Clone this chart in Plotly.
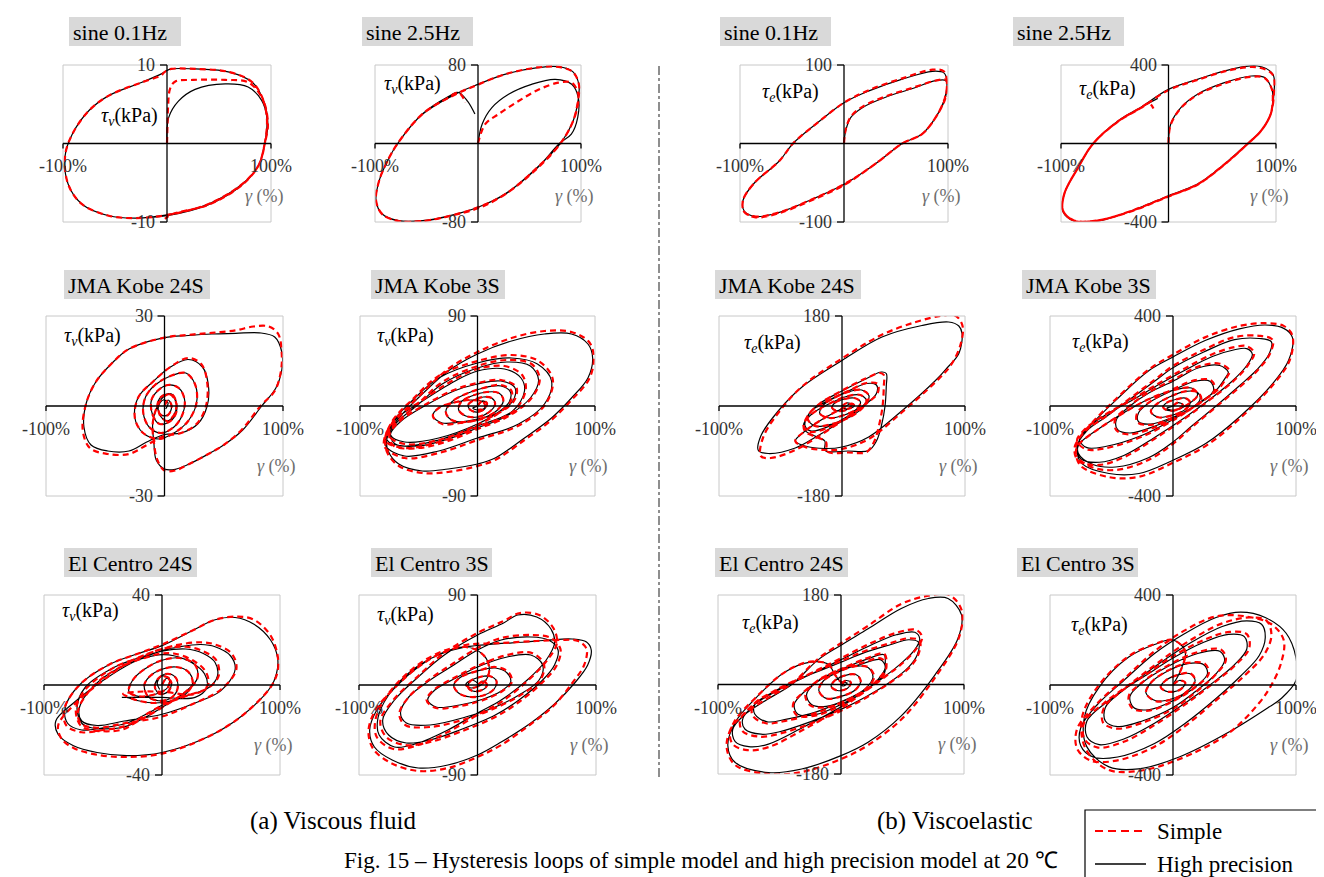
import plotly.graph_objects as go

W, H = 1324, 877

# ---------------- data: (gamma %, tau kPa) ----------------
SINE01_V_HP = [(0,0),(1.6,3.3),(11,5.4),(27,6.9),(56,7.6),(78,7.2),(91,5.5),(96,3.3),(94,0),(88,-2.8),(72,-5.2),(40,-7.7),(0,-9.1),(-30,-9.5),(-56,-9.2),(-82,-7.7),(-95,-5.2),(-98,-1.6),(-91,1.2),(-75,4.2),(-56,6.1),(-24,7.8),(-5,8.9),(0,9.3),(4,9.5),(27,9.5),(60,9.1),(82,7.8),(93,5.4),(97,2.4),(94,0),(88,-2.8),(72,-5.3),(40,-7.8),(0,-9.2),(-30,-9.5)]
SINE01_V_SP = [(0,0),(0.5,2.5),(1,4.6),(3,7.0),(8,7.9),(25,8.1),(56,8.1),(78,7.8),(91,5.9),(96,3.3),(94,0),(88,-2.8),(72,-5.2),(40,-7.7),(0,-9.1),(-30,-9.5),(-56,-9.2),(-82,-7.7),(-95,-5.2),(-98,-1.6),(-91,1.2),(-75,4.2),(-56,6.1),(-24,7.8),(-5,8.7),(-4,8.9),(0,9.3),(4,9.5),(27,9.5),(60,9.1),(82,7.8),(93,5.4),(97,2.4),(94,0),(88,-2.8),(72,-5.3),(40,-7.8),(5,-9.0),(-2,-9.6)]

SINE25_V_HP = [(0,0),(4,19.7),(13.5,36.6),(29.7,50.2),(52,60.3),(75,65.4),(91,60.3),(97.4,46.8),(96.8,26.4),(90.6,9.5),(79,0),(58,-24.4),(26,-51.5),(0,-65),(-28,-73.6),(-54,-78.6),(-77,-78.6),(-93,-71.9),(-99,-58.3),(-96,-38),(-88,-18),(-78,0),(-54,29.8),(-22,50.2),(0,60.3),(26,70.5),(58,77.3),(78,78.3),(92,73.2),(98,59.7),(97,42.7),(92,22),(80,0),(58,-24),(26,-52),(0,-65),(-28,-74),(-54,-79),(-77,-79),(-93,-72),(-99,-58),(-96,-38),(-88,-18),(-78,0),(-54,30),(-30,47),(-19,52),(-10,43),(-3,30)]
SINE25_V_SP = [(0,0),(7,19.7),(20,30),(39,43),(59,55),(78,62),(91,62),(97,52),(97,40),(92,22),(80,0),(58,-24),(26,-52),(0,-65),(-28,-74),(-54,-79),(-77,-79),(-93,-72),(-99,-58),(-96,-38),(-88,-18),(-78,0),(-54,30),(-22,50),(0,60),(26,70.5),(58,77.5),(78,78),(92,73),(98,60),(97,43),(92,22),(80,0),(58,-25),(26,-52),(0,-66),(-28,-74),(-54,-79),(-77,-79),(-93,-72),(-99,-58),(-96,-38),(-88,-18),(-78,0),(-54,30),(-30,46),(-19,52),(-14,46),(-12,42)]

SINE01_E_HP = [(0,0),(1.6,16),(6.4,33),(18,46),(40,59),(66,70),(88,80),(98,80),(99,72),(97,56),(88,33),(75,12),(56,0),(30,-26),(0,-52),(-34,-73),(-63,-88),(-85,-93),(-96,-86),(-97,-72),(-86,-50),(-62,-22),(-49,0),(-24,28),(0,52),(24,67),(56,82),(85,92),(96,90),(99,80),(97,58),(88,33),(75,12),(56,0),(30,-26),(0,-52),(-34,-73),(-63,-88),(-85,-93),(-96,-86),(-97,-72),(-86,-50),(-70,-32)]
SINE01_E_SP = [(0,0),(2,20),(7,35),(18,47),(40,60),(66,71),(88,80),(98,81),(99,72),(97,56),(88,33),(75,12),(56,0),(30,-26),(0,-53),(-34,-74),(-63,-89),(-85,-94),(-96,-87),(-97,-72),(-86,-50),(-62,-22),(-49,0),(-24,28),(0,52),(24,68),(56,83),(85,94),(96,92),(99,80),(97,58),(88,33),(75,12),(56,0),(30,-26),(0,-52),(-34,-73),(-63,-88),(-85,-93),(-96,-87),(-97,-72),(-86,-50),(-70,-32)]

SINE25_E_HP = [(0,0),(2,98),(11.5,183),(27,251),(52,310),(77,344),(89.5,336),(95.6,285),(97,251),(95,149),(86,64),(73.6,0),(52,-105),(27,-207),(0,-266),(-35,-344),(-66,-395),(-88,-395),(-98.4,-344),(-97,-258),(-84,-122),(-70,0),(-47,115),(-26,183),(0,276),(27,327),(58,378),(83,395),(97,354),(98,251),(95,149),(86,64),(73.6,0),(52,-105),(27,-207),(0,-266),(-35,-344),(-66,-395),(-88,-395),(-98.4,-344),(-97,-258),(-84,-122),(-70,0),(-47,115),(-26,183),(-10,230)]
SINE25_E_SP = [(0,0),(2,95),(11.5,180),(27,248),(52,306),(77,340),(89.5,334),(95.6,285),(97,251),(95,149),(86,64),(74,0),(52,-108),(27,-210),(0,-270),(-35,-346),(-66,-392),(-88,-392),(-98,-344),(-97,-258),(-84,-122),(-70,0),(-47,112),(-26,180),(0,272),(27,324),(58,375),(83,388),(97,350),(98,251),(95,149),(86,64),(74,0),(52,-106),(27,-208),(0,-268),(-35,-344),(-66,-393),(-88,-393),(-98,-344),(-97,-258),(-84,-122),(-70,0),(-47,113),(-26,181),(-18,205),(-14,178)]

KOBE24_V_HP = [(0,0),(3,2),(6,0),(3,-3),(-3,-3),(-6,0),(-3,3),(4,4),(9,2),(10,-2),(5,-5),(-4,-6),(-10,-3),(-11,2),(-6,5),(3,7),(12,6),(17,2),(15,-3),(8,-7),(-3,-9),(-13,-7),(-18,-2),(-16,3),(-8,7),(5,10),(18,11),(26,7),(27,1),(20,-5),(8,-9),(-5,-11),(-18,-9),(-25,-4),(-22,3),(-10,8),(5,13),(20,15.5),(32,13),(37,7),(36,0),(28,-6),(14,-9),(0,-9.5),(-15,-12),(-30,-15),(-48,-15),(-62,-13),(-68,-7),(-66,1),(-58,8),(-45,14),(-30,19),(0,22.8),(20,23.5),(40,24),(60,24.2),(80,24.4),(93,23),(99,18),(99,12),(94,6),(82,0),(66,-8),(50,-13),(37,-16),(20,-19.5),(9,-21.1),(0,-21),(-7,-18),(-9,-12),(-10,-6),(-7,-1),(-1,3),(6,4),(10,1),(8,-3),(2,-5),(-4,-3),(-5,0),(-1,2),(3,1),(1,-1)]
KOBE24_V_SP = [(0,0),(3,2),(6,0),(3,-3),(-3,-3),(-6,0),(-3,3),(4,4),(9,2),(10,-2),(5,-5),(-4,-6),(-10,-3),(-11,2),(-6,5),(3,7),(12,6),(17,2),(15,-3),(8,-7),(-3,-9),(-13,-7),(-18,-2),(-16,3),(-8,7),(5,10),(18,11),(26,7),(27,1),(20,-5),(8,-9),(-5,-11),(-18,-9),(-25,-4),(-22,3),(-10,8),(5,13),(20,16),(31,14),(36,8),(35,0),(27,-6),(14,-9),(0,-10),(-15,-13),(-30,-16),(-48,-16),(-63,-14),(-69,-8),(-66,1),(-58,8),(-45,14),(-30,19),(0,22.8),(20,23.7),(40,24.4),(60,25.2),(75,26.5),(88,26.5),(96,24),(99,17),(98,11),(93,5),(81,0),(65,-8),(50,-13),(37,-16),(20,-19.5),(9,-21.5),(0,-21.5),(-6,-18),(-9,-12),(-10,-6),(-7,-1),(-1,3),(6,4),(10,1),(8,-3),(2,-5),(-4,-3),(-5,0)]

KOBE3_V_HP = [(0,0),(4,5),(8,3),(6,-3),(0,-6),(-6,-4),(-8,1),(-3,6),(5,9),(12,8),(15,2),(10,-6),(0,-11),(-10,-10),(-16,-4),(-14,4),(-5,10),(8,14),(18,13),(22,6),(17,-4),(5,-12),(-10,-16),(-22,-14),(-27,-6),(-22,4),(-10,12),(5,18),(20,20),(28,14),(27,4),(18,-6),(0,-18),(-33,-32),(-62,-36),(-74,-29),(-70,-14),(-48,4),(-19,25),(0,35),(23,37),(37,28),(40,15),(30,-5),(0,-20),(-33,-34),(-62,-40),(-77,-34),(-72,-16),(-55,6),(-33,28),(0,43),(29,48),(51,42),(63,25),(57,2),(35,-18),(0,-32),(-33,-45),(-62,-50),(-78,-40),(-77,-28),(-67,-12),(-47,12),(-25,35),(0,52),(29,65),(57,72),(80,72),(94,62),(98,48),(94,28),(80,8),(63,-12),(40,-32),(15,-52),(0,-58),(-25,-63),(-47,-65),(-67,-58),(-76,-45),(-77,-32),(-70,-18),(-50,2),(-30,22),(0,38),(25,44),(45,40),(52,26),(45,8),(25,-10),(0,-22),(-25,-33),(-50,-40),(-70,-38),(-74,-28),(-65,-15),(-45,0),(-20,15),(0,22),(20,25),(32,18),(30,5),(15,-8),(0,-13),(-15,-16),(-30,-17),(-38,-10),(-33,-2),(-18,4),(-5,6),(5,4),(6,-2),(0,-4),(-4,-2),(0,0)]
KOBE3_V_SP = [(0,0),(4,5),(8,3),(6,-3),(0,-6),(-6,-4),(-8,1),(-3,6),(5,9),(12,8),(15,2),(10,-6),(0,-11),(-10,-10),(-16,-4),(-14,4),(-5,10),(8,14),(18,13),(22,6),(17,-4),(5,-12),(-10,-16),(-22,-14),(-27,-6),(-22,4),(-10,12),(5,18),(20,21),(29,15),(28,4),(18,-7),(0,-19),(-33,-34),(-62,-38),(-75,-30),(-71,-14),(-48,5),(-19,27),(0,37),(23,40),(38,31),(41,16),(31,-5),(0,-21),(-33,-36),(-62,-42),(-78,-35),(-73,-16),(-55,7),(-33,30),(0,45),(29,51),(52,45),(64,27),(58,2),(36,-19),(0,-34),(-33,-47),(-62,-52),(-79,-41),(-78,-28),(-68,-12),(-47,13),(-25,37),(0,54),(29,68),(57,75),(80,74),(95,64),(99,48),(95,27),(80,6),(63,-14),(40,-34),(15,-54),(0,-60),(-25,-66),(-47,-67),(-67,-60),(-77,-46),(-78,-32),(-70,-18),(-50,3),(-30,24),(0,40),(25,46),(46,42),(53,27),(46,8),(25,-11),(0,-23),(-25,-35),(-50,-42),(-71,-40),(-75,-29),(-66,-15),(-45,1),(-20,16),(0,23),(20,26),(33,19),(31,5),(15,-9),(0,-14),(-15,-17),(-30,-18),(-38,-10),(-33,-2),(-18,4),(-5,6),(5,4),(6,-2),(0,-4)]

CENTRO24_V_HP = [(0,0),(4,3),(8,1),(5,-3),(-2,-4),(-6,-1),(-3,3),(5,5),(12,3),(13,-2),(7,-6),(-3,-7),(-12,-5),(-15,0),(-10,4),(0,7),(12,8),(22,6),(26,1),(20,-4),(8,-7),(-6,-8),(-20,-7),(-30,-5.5),(-34,-5.5),(-20,-5.5),(0,-5.5),(28,-5.5),(38,-1),(36,5),(25,10),(10,13),(0,13.5),(-15,12),(-35,8),(-57,0),(-70,-10),(-68,-16),(-55,-18),(-32,-16),(0,-13),(28,-8),(50,-2.5),(62,7),(58,13),(45,17),(33,18),(15,17),(0,15.3),(-25,10),(-50,2),(-75,-8),(-90,-16),(-88,-22),(-75,-27),(-55,-30),(-30,-31.4),(0,-30),(39,-23),(67,-14),(92,-1),(97,5),(98,12),(92,20),(78,27),(62,30),(45,29),(25,24),(0,17.5),(-20,14),(-45,9),(-70,0),(-82,-10),(-80,-17),(-68,-20),(-50,-19),(-30,-17),(-10,-12),(0,-9),(20,-5),(40,-1),(47,4),(45,10),(35,14),(20,16),(0,15),(-20,12),(-40,8),(-65,-1),(-72,-10),(-68,-17),(-60,-19),(-35,-19),(-20,-16),(0,-10),(20,-3),(30,3),(28,9),(15,12),(0,11),(-15,7),(-25,2),(-28,-3),(-20,-5),(-5,-4),(5,-1),(6,3),(0,4),(-4,1),(-2,-2)]
CENTRO24_V_SP = [(0,0),(4,3),(8,1),(5,-3),(-2,-4),(-6,-1),(-3,3),(5,5),(12,3),(13,-2),(7,-6),(-3,-7),(-12,-5),(-15,0),(-10,4),(0,7),(12,8),(22,6),(26,1),(20,-4),(8,-7),(-6,-8),(-20,-7),(-30,-5),(-33,-4),(-20,-3),(0,-3),(28,-4),(39,0),(37,6),(26,11),(10,14),(0,14),(-15,12),(-35,8),(-57,0),(-71,-11),(-69,-17),(-55,-19),(-32,-17),(0,-14),(28,-8),(50,-2),(63,7),(59,14),(45,18),(33,19),(15,18),(0,16),(-25,11),(-50,2),(-75,-9),(-88,-18),(-85,-24),(-75,-28),(-55,-31),(-30,-32),(0,-30.5),(39,-23),(67,-14),(92,-1),(98,6),(98,13),(92,22),(78,29),(64,30.4),(45,29),(25,24),(0,18),(-20,14),(-45,9),(-70,0),(-83,-11),(-81,-18),(-68,-21),(-50,-20),(-30,-18),(-10,-12),(0,-9),(20,-5),(40,-1),(48,4),(46,11),(35,15),(20,17),(0,16),(-20,12),(-40,8),(-65,-2),(-73,-11),(-69,-18),(-60,-20),(-35,-20),(-20,-16),(0,-10),(20,-3),(30,3),(28,9),(15,12),(0,11),(-15,7),(-25,2),(-28,-3),(-20,-5),(-5,-4),(5,-1),(6,3),(0,4)]

CENTRO3_V_HP = [(0,0),(5,4),(8,0),(4,-5),(-4,-6),(-8,-2),(-6,4),(2,8),(10,9),(16,4),(14,-4),(6,-10),(-6,-12),(-16,-8),(-20,0),(-14,8),(0,14),(15,17),(25,12),(28,3),(20,-6),(5,-14),(-15,-20),(-35,-22),(-42,-15),(-36,-5),(-20,6),(0,18),(25,28),(45,30),(55,20),(52,5),(35,-10),(15,-22),(-10,-32),(-40,-40),(-60,-38),(-65,-28),(-58,-12),(-40,5),(-20,20),(0,35),(20,45),(45,48),(60,45),(68,35),(65,20),(55,5),(35,-15),(15,-30),(-15,-45),(-40,-55),(-60,-58),(-75,-50),(-80,-35),(-70,-15),(-50,8),(-28,30),(0,50),(22,62),(34,70),(50,68),(62,56),(65,42),(58,25),(42,5),(20,-15),(0,-28),(-25,-45),(-50,-58),(-70,-62),(-83,-50),(-84,-33),(-75,-10),(-55,15),(-33,30),(-10,38),(15,41),(40,43),(60,45),(80,46),(92,43),(96,35),(93,20),(82,2),(65,-19),(45,-38),(20,-57),(0,-70),(-25,-80),(-50,-83),(-72,-75),(-87,-62),(-91,-45),(-85,-25),(-70,-3),(-50,18),(-30,32),(-10,38),(5,30),(10,15),(5,2),(-5,-3),(-10,0),(-5,5),(0,2)]
CENTRO3_V_SP = [(0,0),(5,4),(8,0),(4,-5),(-4,-6),(-8,-2),(-6,4),(2,8),(10,9),(16,4),(14,-4),(6,-10),(-6,-12),(-16,-8),(-20,0),(-14,8),(0,14),(15,18),(26,13),(29,3),(21,-6),(5,-15),(-15,-21),(-35,-23),(-43,-15),(-37,-5),(-20,7),(0,19),(25,30),(46,32),(56,21),(53,5),(35,-11),(15,-23),(-10,-34),(-40,-42),(-61,-40),(-66,-29),(-58,-12),(-40,6),(-20,22),(0,37),(20,47),(45,50),(62,47),(70,36),(67,20),(56,4),(35,-17),(15,-32),(-15,-47),(-40,-57),(-61,-60),(-77,-52),(-82,-36),(-71,-15),(-50,9),(-28,32),(0,52),(22,64),(36,72),(52,70),(64,57),(67,42),(59,25),(42,4),(20,-17),(0,-30),(-25,-47),(-50,-60),(-71,-64),(-85,-52),(-86,-34),(-76,-10),(-55,16),(-33,32),(-10,40),(20,42),(50,44),(70,45),(85,44),(92,36),(90,20),(80,2),(64,-21),(44,-40),(20,-60),(0,-72),(-25,-83),(-50,-86),(-73,-78),(-88,-64),(-92,-46),(-86,-25),(-70,-3),(-50,18),(-30,32),(-10,38),(5,30),(10,15),(5,2),(-5,-3),(-10,0)]

KOBE24_E_HP = [(0,0),(4,6),(8,3),(5,-6),(-3,-10),(-8,-4),(-6,6),(2,14),(10,16),(15,8),(12,-6),(2,-18),(-10,-24),(-18,-15),(-16,0),(-8,14),(5,28),(16,32),(22,20),(18,0),(8,-20),(-8,-36),(-22,-40),(-28,-25),(-24,-8),(-12,10),(5,30),(20,45),(28,42),(28,25),(20,5),(5,-20),(-10,-40),(-25,-50),(-30,-40),(-28,-20),(-18,5),(0,30),(20,55),(32,68),(36,65),(36,40),(35,0),(32,-40),(28,-70),(21.7,-89),(5,-90),(-13.6,-89),(-14,-70),(-22,-60),(-30,-49),(-31,-35),(-24,-15),(-10,5),(5,20),(15,22),(20,10),(12,-10),(0,-30),(-20,-60),(-38,-84),(-60,-95),(-68,-89),(-66,-60),(-51.5,-9),(-32.5,38),(0,91),(32.5,138),(65,161),(86.7,168),(95,160),(97.6,145),(95,105),(85,75),(76,51),(49,-9),(21.7,-62),(0,-82),(-13.6,-85),(-30,-80),(-38,-70),(-30,-50),(-15,-25),(0,-5),(8,5),(10,0),(4,-6),(0,-3)]
KOBE24_E_SP = [(0,0),(4,6),(8,3),(5,-6),(-3,-10),(-8,-4),(-6,6),(2,14),(10,16),(15,8),(12,-6),(2,-18),(-10,-24),(-18,-15),(-16,0),(-8,14),(5,28),(16,32),(22,20),(18,0),(8,-20),(-8,-36),(-22,-40),(-28,-25),(-24,-8),(-12,10),(5,30),(20,46),(29,44),(29,26),(20,5),(5,-21),(-10,-42),(-26,-52),(-31,-41),(-28,-20),(-18,5),(0,31),(20,56),(31,66),(34,62),(34,40),(33,0),(30,-40),(26,-72),(20,-92),(5,-93),(-12,-91),(-13,-72),(-21,-62),(-30,-51),(-31,-35),(-24,-15),(-10,5),(5,20),(15,22),(20,10),(12,-10),(0,-30),(-20,-62),(-38,-88),(-58,-104),(-66,-100),(-64,-62),(-50,-8),(-32,40),(0,95),(32,142),(60,168),(80,180),(92,181),(98,160),(96,120),(88,80),(76,48),(49,-12),(21.7,-66),(0,-86),(-14,-88),(-30,-82),(-38,-70),(-30,-50),(-15,-25),(0,-5),(8,5),(10,0),(4,-6)]

KOBE3_E_HP = [(0,0),(4,15),(8,5),(4,-15),(-4,-20),(-8,-5),(-5,15),(3,30),(10,35),(14,15),(10,-15),(0,-40),(-12,-50),(-18,-25),(-14,5),(-3,40),(10,65),(20,60),(22,30),(15,-10),(0,-50),(-18,-80),(-28,-70),(-28,-30),(-18,20),(0,70),(18,110),(30,110),(33,70),(25,25),(8,-30),(-15,-90),(-35,-120),(-45,-105),(-46,-60),(-35,0),(-19,60),(0,110),(21,170),(38,180),(45,150),(43,129),(35,70),(20,10),(0,-60),(-25,-130),(-55,-180),(-70,-185),(-76,-150),(-70,-100),(-55,-40),(-35,20),(-10,100),(10,160),(32,220),(50,250),(60,255),(64.5,230),(60,180),(48,110),(30,30),(10,-50),(-15,-140),(-40,-220),(-60,-250),(-75,-235),(-78,-180),(-70,-110),(-55,-50),(-35,30),(-15,110),(0,170),(25,240),(50,295),(70,300),(80,285),(78,230),(68,160),(54,90),(35,0),(15,-90),(0,-160),(-20,-230),(-46.6,-271),(-65,-260),(-77,-210),(-76,-150),(-65.6,-78),(-46.6,25),(-19.5,158),(0,218),(26.6,292),(54,343),(75,360),(90,345),(97,306),(94,203),(81,99),(54,-49),(26.6,-167),(0,-241),(-27.6,-300),(-52,-300),(-74,-256),(-78,-200),(-76,-167),(-60,-100),(-40,-30),(-20,30),(0,70),(15,80),(20,50),(10,0),(0,-20),(-5,-10),(0,0)]
KOBE3_E_SP = [(0,0),(4,15),(8,5),(4,-15),(-4,-20),(-8,-5),(-5,15),(3,30),(10,35),(14,15),(10,-15),(0,-40),(-12,-50),(-18,-25),(-14,5),(-3,40),(10,65),(20,62),(23,30),(15,-12),(0,-52),(-18,-84),(-29,-72),(-29,-30),(-18,22),(0,74),(18,115),(31,114),(34,72),(25,25),(8,-32),(-15,-95),(-36,-126),(-46,-108),(-47,-60),(-35,2),(-19,64),(0,116),(21,176),(38,188),(46,156),(44,130),(36,70),(20,8),(0,-64),(-25,-136),(-55,-188),(-71,-192),(-78,-154),(-71,-100),(-55,-38),(-35,24),(-10,106),(10,168),(32,230),(50,262),(60,266),(66,236),(61,182),(49,110),(30,28),(10,-54),(-15,-146),(-40,-228),(-60,-262),(-77,-244),(-80,-184),(-71,-110),(-55,-48),(-35,34),(-15,116),(0,178),(25,250),(50,306),(70,312),(81,294),(79,234),(69,160),(55,88),(35,-4),(15,-96),(0,-168),(-20,-240),(-46,-284),(-66,-272),(-79,-216),(-77,-152),(-66,-76),(-47,28),(-19,165),(0,228),(26,305),(54,356),(75,368),(90,356),(97,314),(95,205),(82,99),(55,-52),(27,-176),(0,-252),(-28,-315),(-52,-316),(-75,-266),(-79,-204),(-76,-167),(-60,-100),(-40,-30),(-20,30),(0,70),(15,80),(20,50),(10,0),(0,-20)]

CENTRO24_E_HP = [(0,0),(4,8),(8,4),(5,-8),(-3,-12),(-8,-4),(-5,8),(3,18),(12,20),(16,8),(12,-10),(0,-24),(-12,-28),(-18,-12),(-14,8),(-3,24),(10,36),(22,34),(26,15),(20,-8),(5,-30),(-12,-44),(-24,-40),(-28,-20),(-20,5),(-5,25),(15,40),(32,50),(36,35),(30,10),(15,-20),(0,-40),(-20,-60),(-35,-60),(-38,-40),(-30,-15),(-15,12),(0,30),(20,50),(35,60),(36,45),(35,20),(20,-10),(0,-35),(-20,-55),(-45,-70),(-60,-75),(-70,-60),(-70,-40),(-55,-15),(-35,10),(-15,30),(0,45),(20,65),(40,80),(55,90),(63,85),(62,60),(55,35),(40,5),(20,-25),(0,-50),(-25,-75),(-50,-95),(-65,-100),(-78,-90),(-80,-70),(-70,-40),(-50,-10),(-25,20),(0,50),(25,80),(45,100),(60,105),(64,92),(60,70),(50,45),(35,15),(15,-20),(0,-45),(-30,-85),(-59,-120),(-75,-125),(-86,-115),(-88,-90),(-78,-60),(-60,-30),(-40,0),(-18.4,50),(0,79),(22,112),(49,153),(71,173),(87,173),(98,140),(95,92),(76,18),(49,-63),(22,-116),(0,-143),(-32,-170),(-59,-177),(-86,-157),(-92,-123),(-86,-76),(-70,-29),(-45.5,25),(-25,45),(-10,40),(-5,20),(0,5),(5,3),(2,-3),(0,0)]
CENTRO24_E_SP = [(0,0),(4,8),(8,4),(5,-8),(-3,-12),(-8,-4),(-5,8),(3,18),(12,20),(16,8),(12,-10),(0,-24),(-12,-28),(-18,-12),(-14,8),(-3,24),(10,36),(22,35),(27,15),(20,-9),(5,-31),(-12,-46),(-25,-42),(-29,-20),(-20,6),(-5,26),(15,42),(33,52),(37,36),(30,10),(15,-21),(0,-42),(-20,-62),(-36,-62),(-39,-40),(-30,-14),(-15,13),(0,31),(20,52),(35,62),(37,46),(35,20),(20,-11),(0,-37),(-20,-57),(-45,-73),(-61,-78),(-72,-62),(-71,-40),(-55,-14),(-35,11),(-15,32),(0,47),(20,68),(40,83),(55,93),(64,88),(63,61),(56,35),(40,4),(20,-27),(0,-53),(-25,-79),(-50,-99),(-66,-105),(-80,-94),(-82,-72),(-71,-40),(-50,-9),(-25,22),(0,53),(25,84),(45,104),(61,110),(66,95),(61,71),(51,45),(35,14),(15,-22),(0,-48),(-30,-90),(-59,-126),(-76,-132),(-88,-120),(-90,-92),(-79,-60),(-60,-28),(-40,2),(-18,53),(0,83),(22,118),(49,162),(70,178),(88,180),(98,150),(96,95),(77,16),(50,-68),(22,-122),(0,-150),(-32,-176),(-59,-180),(-86,-162),(-93,-125),(-87,-76),(-70,-28),(-45,26),(-25,46),(-10,40),(-5,20),(0,5),(5,3)]

CENTRO3_E_HP = [(0,0),(5,20),(10,10),(6,-20),(-4,-30),(-10,-10),(-6,20),(4,45),(14,50),(18,20),(12,-25),(0,-60),(-14,-70),(-22,-35),(-18,10),(-5,60),(12,95),(25,90),(28,50),(20,0),(0,-70),(-20,-110),(-32,-100),(-35,-50),(-25,10),(-5,80),(20,140),(38,150),(42,110),(35,50),(18,-30),(0,-100),(-25,-160),(-45,-185),(-55,-160),(-55,-100),(-42,-30),(-20,50),(0,120),(25,190),(45,225),(58,215),(60,160),(50,90),(30,0),(10,-80),(-15,-170),(-40,-240),(-60,-265),(-70,-230),(-70,-160),(-55,-80),(-35,0),(-10,100),(15,190),(40,260),(60,285),(72,270),(75,210),(70,130),(55,40),(35,-60),(10,-170),(-15,-260),(-45,-320),(-65,-320),(-75,-270),(-75,-190),(-62,-90),(-40,20),(-15,140),(10,230),(35,300),(55,324),(75,300),(92,230),(100,120),(100,20),(88,-60),(78,-98),(45.5,-209),(5,-320),(-28,-373),(-52,-364),(-70,-275),(-72,-142),(-60,-9),(-36,124),(-15,180),(0,200),(10,150),(5,50),(0,0)]
CENTRO3_E_SP = [(0,0),(5,20),(10,10),(6,-20),(-4,-30),(-10,-10),(-6,20),(4,45),(14,52),(18,20),(12,-26),(0,-62),(-14,-72),(-22,-35),(-18,10),(-5,62),(12,98),(26,94),(29,50),(20,-2),(0,-72),(-20,-114),(-33,-104),(-36,-50),(-25,12),(-5,84),(20,146),(39,158),(43,112),(35,48),(18,-34),(0,-106),(-25,-168),(-46,-194),(-57,-166),(-56,-100),(-42,-28),(-20,54),(0,128),(25,200),(46,236),(60,226),(62,164),(51,90),(30,-4),(10,-86),(-15,-178),(-40,-252),(-61,-278),(-72,-240),(-72,-164),(-56,-80),(-35,4),(-10,108),(15,202),(40,274),(62,300),(76,286),(80,220),(74,134),(57,36),(35,-68),(10,-182),(-15,-274),(-46,-336),(-67,-336),(-78,-282),(-78,-196),(-63,-90),(-40,26),(-15,150),(10,244),(35,305),(60,304),(80,270),(90,200),(88,100),(80,0),(70,-80),(45,-215),(5,-330),(-28,-382),(-53,-376),(-71,-284),(-74,-146),(-61,-6),(-36,128),(-15,182),(0,200),(10,150),(5,50)]

PANEL_TITLES = ["sine 0.1Hz", "sine 2.5Hz", "sine 0.1Hz", "sine 2.5Hz",
                "JMA Kobe 24S", "JMA Kobe 3S", "JMA Kobe 24S", "JMA Kobe 3S",
                "El Centro 24S", "El Centro 3S", "El Centro 24S", "El Centro 3S"]
TAU_MAX = [10, 80, 100, 400, 30, 90, 180, 400, 40, 90, 180, 400]
TAU_SUB = ["v", "v", "e", "e", "v", "v", "e", "e", "v", "v", "e", "e"]
HP_SERIES = [SINE01_V_HP, SINE25_V_HP, SINE01_E_HP, SINE25_E_HP,
             KOBE24_V_HP, KOBE3_V_HP, KOBE24_E_HP, KOBE3_E_HP,
             CENTRO24_V_HP, CENTRO3_V_HP, CENTRO24_E_HP, CENTRO3_E_HP]
SP_SERIES = [SINE01_V_SP, SINE25_V_SP, SINE01_E_SP, SINE25_E_SP,
             KOBE24_V_SP, KOBE3_V_SP, KOBE24_E_SP, KOBE3_E_SP,
             CENTRO24_V_SP, CENTRO3_V_SP, CENTRO24_E_SP, CENTRO3_E_SP]
GAMMA_TICKS = ["-100%", "100%"]
SERIES_NAMES = ["Simple", "High precision"]
GROUP_LABELS = ["(a) Viscous fluid", "(b) Viscoelastic"]
CAPTION = "Fig. 15 – Hysteresis loops of simple model and high precision model at 20 ℃"

# ---------------- layout (pixels) ----------------
BOXES = [(55, 57, 263, 214), (367, 57, 573, 214), (732, 57, 940, 214), (1053, 57, 1268, 214),
         (38, 308, 275, 488), (352, 308, 587, 488), (711, 308, 957, 488), (1042, 308, 1288, 488),
         (36, 587, 272, 767), (351, 587, 588, 767), (710, 587, 956, 766), (1042, 587, 1288, 767)]
TITLE_BOXES = [(61, 9, 173, 38), (354, 9, 465, 38), (712, 9, 823, 38), (1005, 9, 1116, 38),
               (56, 262, 202, 291), (363, 262, 497, 291), (707, 262, 853, 291), (1014, 262, 1148, 291),
               (56, 540, 189, 569), (363, 540, 484, 569), (707, 540, 840, 569), (1009, 540, 1130, 569)]
TAU_LABEL_POS = [(92, 108), (375, 77), (753, 85), (1070, 82),
                 (55, 328), (368, 328), (735, 336), (1063, 334),
                 (53, 603), (368, 607), (733, 615), (1062, 617)]

FONT = "Liberation Serif, Times New Roman, serif"
RED = "#ff0000"


def px(x):
    return x / W


def py(y):
    return 1 - y / H


fig = go.Figure()
shapes, annotations = [], []
layout_axes = {}

for i in range(12):
    k = "" if i == 0 else str(i + 1)
    l, t, r, b = BOXES[i]
    T = TAU_MAX[i]
    layout_axes["xaxis" + k] = dict(domain=[px(l), px(r)], range=[-100, 100], visible=False,
                                    fixedrange=True, anchor="y" + k)
    layout_axes["yaxis" + k] = dict(domain=[py(b), py(t)], range=[-T, T], visible=False,
                                    fixedrange=True, anchor="x" + k)
    hp = HP_SERIES[i]
    sp = SP_SERIES[i]
    fig.add_trace(go.Scatter(x=[p[0] for p in hp], y=[p[1] for p in hp], mode="lines",
                             line=dict(color="black", width=1.2, shape="spline", smoothing=1.0),
                             name=SERIES_NAMES[1], showlegend=False, xaxis="x" + k, yaxis="y" + k))
    fig.add_trace(go.Scatter(x=[p[0] for p in sp], y=[p[1] for p in sp], mode="lines",
                             line=dict(color=RED, width=2.2, dash="6px,4px", shape="spline", smoothing=1.0),
                             name=SERIES_NAMES[0], showlegend=False, xaxis="x" + k, yaxis="y" + k))

    cx, cy = (l + r) / 2, (t + b) / 2
    shapes.append(dict(type="rect", xref="paper", yref="paper", x0=px(l), x1=px(r), y0=py(b), y1=py(t),
                       line=dict(color="#c8c8c8", width=1)))
    shapes.append(dict(type="line", xref="paper", yref="paper", x0=px(l), x1=px(r), y0=py(cy), y1=py(cy),
                       line=dict(color="black", width=1.3)))
    shapes.append(dict(type="line", xref="paper", yref="paper", x0=px(cx), x1=px(cx), y0=py(t), y1=py(b),
                       line=dict(color="black", width=1.3)))
    for xx in (l, r):
        shapes.append(dict(type="line", xref="paper", yref="paper", x0=px(xx), x1=px(xx),
                           y0=py(cy), y1=py(cy + 5), line=dict(color="black", width=1.3)))
    for yy in (t, b):
        shapes.append(dict(type="line", xref="paper", yref="paper", x0=px(cx - 7), x1=px(cx),
                           y0=py(yy), y1=py(yy), line=dict(color="black", width=1.3)))
    tick_font = dict(family=FONT, size=18, color="#333")
    annotations.append(dict(text=str(T), x=px(cx - 10), y=py(t), xref="paper", yref="paper",
                            xanchor="right", yanchor="middle", showarrow=False, font=tick_font))
    annotations.append(dict(text="-" + str(T), x=px(cx - 10), y=py(b), xref="paper", yref="paper",
                            xanchor="right", yanchor="middle", showarrow=False, font=tick_font))
    annotations.append(dict(text=GAMMA_TICKS[0], x=px(l), y=py(cy + 23), xref="paper", yref="paper",
                            xanchor="center", yanchor="middle", showarrow=False, font=tick_font))
    annotations.append(dict(text=GAMMA_TICKS[1], x=px(r), y=py(cy + 23), xref="paper", yref="paper",
                            xanchor="center", yanchor="middle", showarrow=False, font=tick_font))
    annotations.append(dict(text="<i>γ</i> (%)", x=px(r - 7), y=py(cy + 0.335 * (b - t)),
                            xref="paper", yref="paper", xanchor="center", yanchor="middle",
                            showarrow=False, font=dict(family=FONT, size=18, color="#6e6e6e")))
    lx, ly = TAU_LABEL_POS[i]
    annotations.append(dict(text="<i>τ<sub>" + TAU_SUB[i] + "</sub></i>(kPa)", x=px(lx), y=py(ly),
                            xref="paper", yref="paper", xanchor="left", yanchor="middle",
                            showarrow=False, bgcolor="white", borderpad=0,
                            font=dict(family=FONT, size=20, color="black")))
    tl, tt, tr, tb = TITLE_BOXES[i]
    shapes.append(dict(type="rect", xref="paper", yref="paper", x0=px(tl), x1=px(tr), y0=py(tb), y1=py(tt),
                       fillcolor="#d9d9d9", line=dict(width=0), layer="below"))
    annotations.append(dict(text=PANEL_TITLES[i], x=px(tl + 2), y=py((tt + tb) / 2 + 1),
                            xref="paper", yref="paper", xanchor="left", yanchor="middle",
                            showarrow=False, font=dict(family=FONT, size=22, color="black")))

shapes.append(dict(type="line", xref="paper", yref="paper", x0=px(651), x1=px(651), y0=py(58), y1=py(772),
                   line=dict(color="#444", width=1.2, dash="dashdot")))

annotations.append(dict(text=GROUP_LABELS[0], x=px(325), y=py(813), xref="paper", yref="paper",
                        xanchor="center", yanchor="middle", showarrow=False,
                        font=dict(family=FONT, size=25, color="black")))
annotations.append(dict(text=GROUP_LABELS[1], x=px(947), y=py(813), xref="paper", yref="paper",
                        xanchor="center", yanchor="middle", showarrow=False,
                        font=dict(family=FONT, size=25, color="black")))
annotations.append(dict(text=CAPTION, x=px(1052), y=py(852), xref="paper", yref="paper",
                        xanchor="right", yanchor="middle", showarrow=False,
                        font=dict(family=FONT, size=23, color="black")))

shapes.append(dict(type="rect", xref="paper", yref="paper", x0=px(1077), x1=px(1321), y0=py(876), y1=py(802),
                   line=dict(color="black", width=1.2), fillcolor="white"))
shapes.append(dict(type="line", xref="paper", yref="paper", x0=px(1087), x1=px(1135), y0=py(823), y1=py(823),
                   line=dict(color=RED, width=2.2, dash="8px,5px")))
shapes.append(dict(type="line", xref="paper", yref="paper", x0=px(1087), x1=px(1138), y0=py(856), y1=py(856),
                   line=dict(color="black", width=1.3)))
annotations.append(dict(text=SERIES_NAMES[0], x=px(1147), y=py(823), xref="paper", yref="paper",
                        xanchor="left", yanchor="middle", showarrow=False,
                        font=dict(family=FONT, size=23, color="black")))
annotations.append(dict(text=SERIES_NAMES[1], x=px(1147), y=py(856), xref="paper", yref="paper",
                        xanchor="left", yanchor="middle", showarrow=False,
                        font=dict(family=FONT, size=23, color="black")))

fig.update_layout(width=W, height=H, margin=dict(l=0, r=0, t=0, b=0),
                  paper_bgcolor="white", plot_bgcolor="rgba(0,0,0,0)",
                  shapes=shapes, annotations=annotations, showlegend=False, **layout_axes)

fig.write_html("out.html", config={"displayModeBar": False})
